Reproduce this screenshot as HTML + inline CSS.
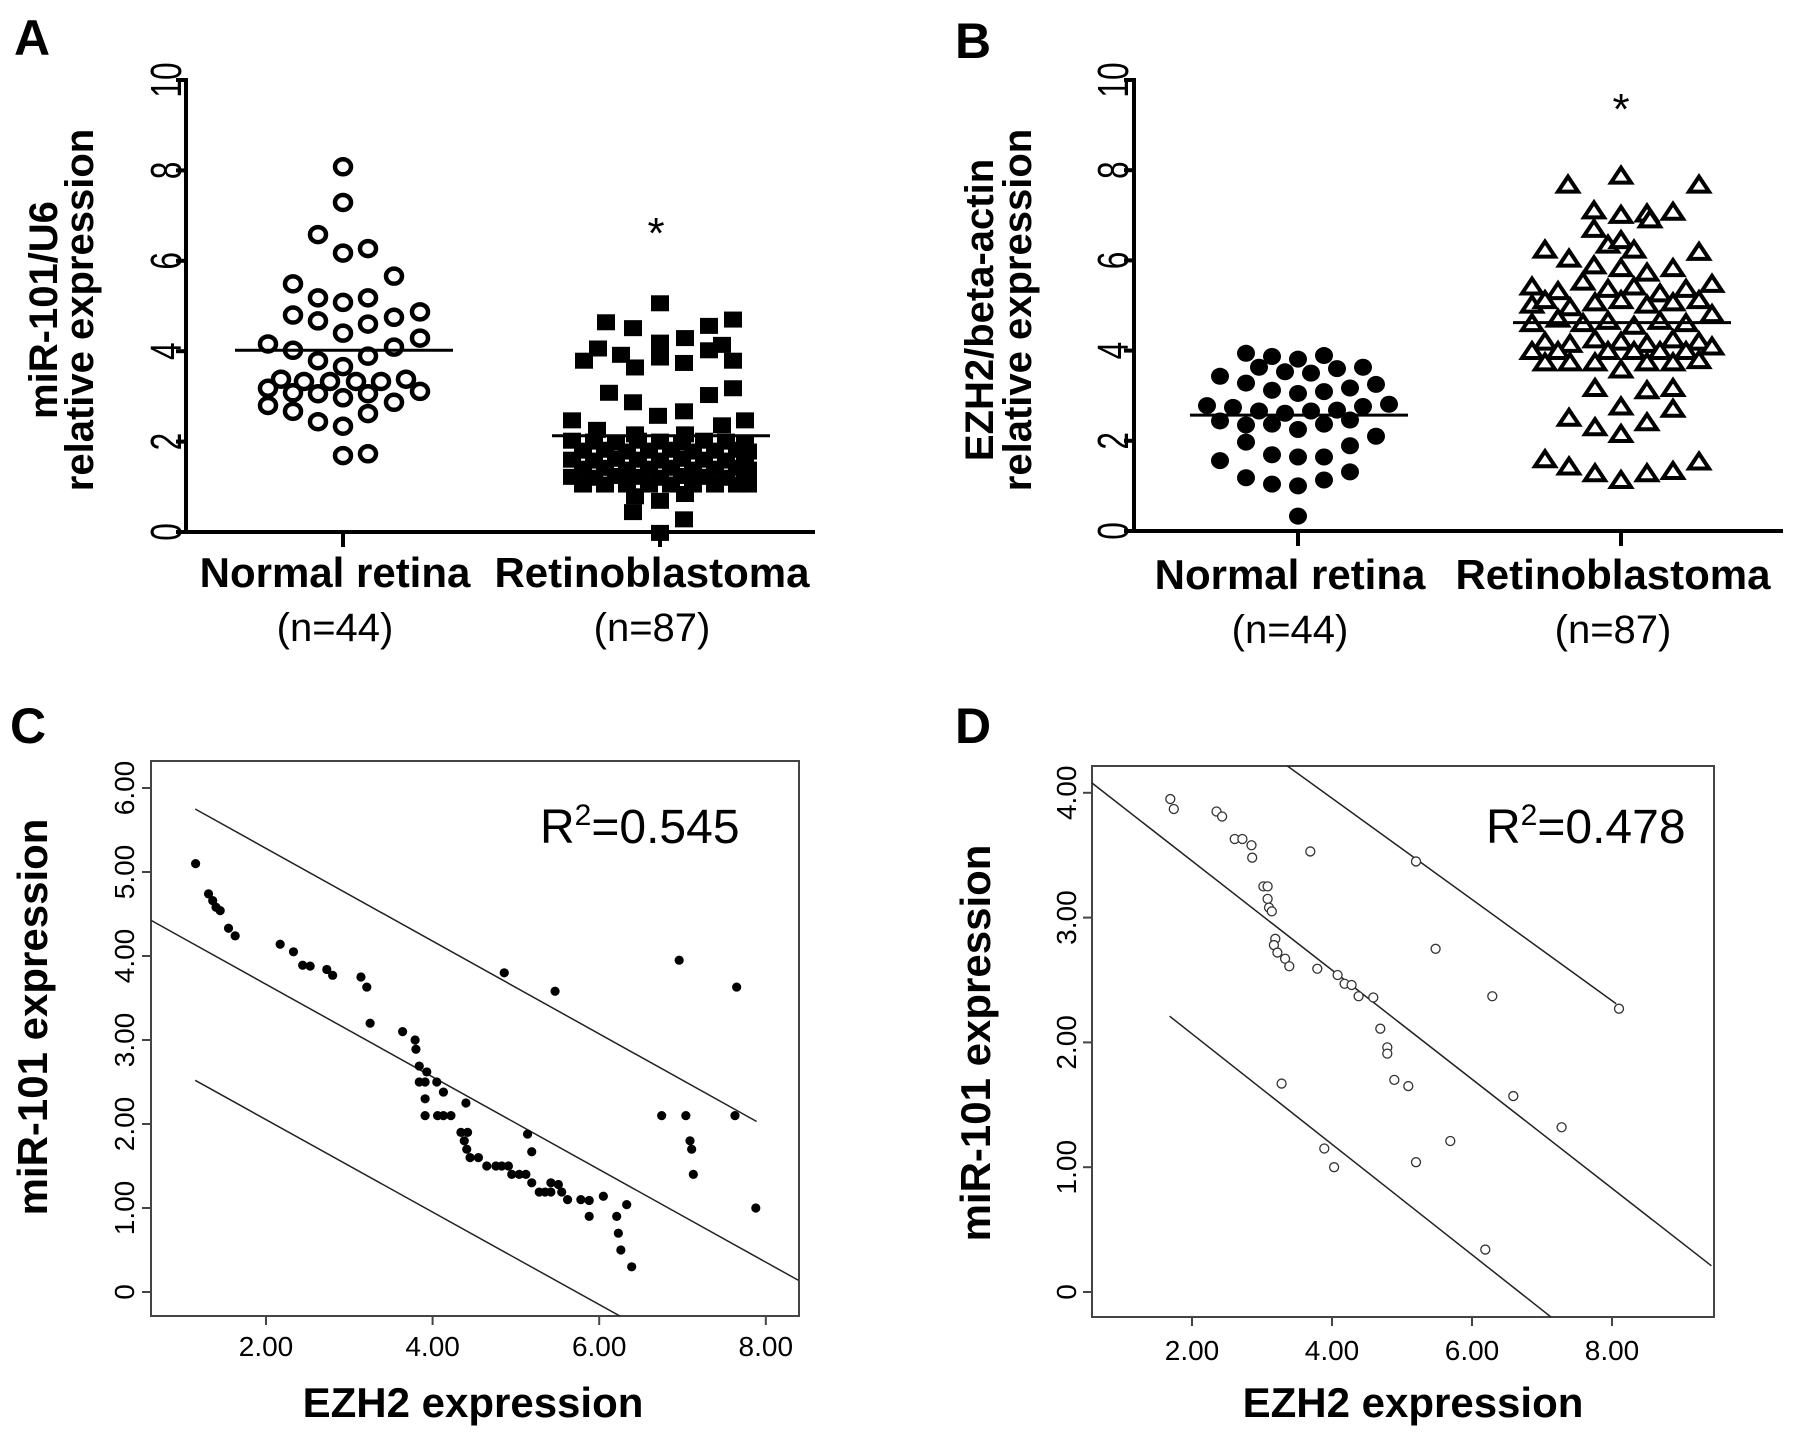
<!DOCTYPE html>
<html><head><meta charset="utf-8">
<style>
html,body{margin:0;padding:0;background:#fff;}
svg{display:block;font-family:"Liberation Sans",Arial,sans-serif;}
</style></head>
<body>
<svg id="fig" width="1795" height="1439" viewBox="0 0 1795 1439" xmlns="http://www.w3.org/2000/svg">
<rect x="0" y="0" width="1795" height="1439" fill="#fff"/>
<g id="gA"></g>
<g id="gB"></g>
<g id="gC"></g>
<g id="gD"></g>
</svg>
<script>
// ---------- Panel A data ----------
const aCategories = ["Normal retina", "Retinoblastoma"];
const aCounts = ["(n=44)", "(n=87)"];
const aYTicks = [0, 2, 4, 6, 8, 10];
const aNormalVals = [8.08,7.29,6.58,6.17,6.27,5.66,5.49,5.18,5.08,5.18,4.80,4.67,4.40,4.60,4.75,4.87,4.16,4.02,3.79,3.66,3.89,4.09,4.29,3.38,3.33,3.33,3.33,3.33,3.38,3.18,3.08,3.06,2.97,3.06,2.87,3.11,2.80,2.67,2.44,2.34,2.62,1.69,1.73];
const aNormalJit = [0,0,-25,0,25,51,-50,-25,0,25,-50,-25,0,25,51,77,-75,-50,-25,0,25,51,77,-62,-39,-13,13,38,63,-75,-50,-25,0,25,51,77,-75,-50,-25,0,25,0,25];
const aRetinoVals = [5.06,4.64,4.51,4.56,4.70,4.19,4.29,3.79,4.06,3.92,3.64,3.86,3.74,4.02,4.14,3.79,3.08,2.87,3.03,3.18,2.57,2.67,2.47,2.47,2.26,2.36,2.16,2.16,
 2.02,2.00,1.98,2.02,2.00,1.98,2.02,2.00,1.98,
 1.80,1.82,1.78,1.80,1.82,1.78,1.80,1.82,1.78,
 1.60,1.58,1.62,1.60,1.58,1.62,1.60,1.58,1.62,
 1.40,1.42,1.38,1.40,1.42,1.38,1.40,1.42,1.38,
 1.22,1.20,1.24,1.22,1.20,1.24,1.22,1.20,1.24,
 1.05,1.05,1.05,1.05,1.05,1.05,1.05,1.05,1.05,
 0.44,0.69,0.28,-0.02,0.79,0.84];
const aRetinoJit = [0,-54,-27,49,73,0,25,-76,-62,-39,-25,0,24,49,62,73,-51,-27,49,73,-2,24,-88,85,-63,62,-25,25,
 -88,-66,-44,-22,0,22,44,66,85,
 -77,-55,-33,-11,11,33,55,77,88,
 -88,-66,-44,-22,0,22,44,66,85,
 -77,-55,-33,-11,11,33,55,77,88,
 -88,-66,-44,-22,0,22,44,66,85,
 -77,-55,-33,-11,11,33,55,77,88,
 -27,0,24,0,-25,25];
const aMeans = [4.02, 2.13];

// ---------- Panel B data ----------
const bCategories = ["Normal retina", "Retinoblastoma"];
const bCounts = ["(n=44)", "(n=87)"];
const bYTicks = [0, 2, 4, 6, 8, 10];
const bNormalVals = [3.94,3.87,3.81,3.89,3.43,3.63,3.53,3.50,3.60,3.63,3.28,3.12,3.05,3.09,3.17,3.25,2.78,2.74,2.66,2.61,2.66,2.68,2.76,2.81,2.44,2.35,2.37,2.25,2.37,2.46,2.10,1.97,1.89,1.56,1.69,1.64,1.64,1.18,1.04,1.00,1.13,1.31,0.33];
const bNormalJit = [-52,-26,0,26,-78,-39,-13,13,39,65,-52,-26,0,26,52,78,-91,-65,-39,-13,13,39,65,91,-78,-52,-26,0,26,52,78,-52,52,-78,-26,0,26,-52,-26,0,26,52,0];
const bRetinoVals = [7.88,7.68,7.68,7.11,7.01,7.04,6.91,7.08,6.70,6.35,6.45,6.24,6.24,6.04,6.19,5.89,5.83,5.73,5.83,5.42,5.32,5.53,5.37,5.42,5.27,5.37,5.48,5.02,5.12,4.96,5.07,5.12,5.02,5.07,5.12,4.61,4.71,4.61,4.66,4.55,4.66,4.61,4.81,4.20,4.15,4.25,4.20,4.15,4.25,4.20,3.99,3.99,3.99,3.99,3.99,3.99,4.09,3.74,3.74,3.74,3.58,3.74,3.74,3.79,3.17,3.12,3.17,2.76,2.71,2.51,2.30,2.15,2.41,1.59,1.43,1.28,1.13,1.28,1.33,1.54];
const bRetinoJit = [0,-53,78,-27,0,26,29,52,-27,-13,0,13,-76,-52,78,-27,0,26,52,-89,-63,-38,-13,13,39,65,91,-89,-76,-51,-26,0,26,52,78,-89,-63,-38,-13,13,39,65,91,-76,-51,-26,0,26,52,78,-89,-63,-13,13,39,65,91,-76,-51,-26,0,26,52,78,-26,26,52,0,52,-52,-26,0,26,-76,-52,-26,0,26,52,78];
const bMeans = [2.57, 4.62];

// ---------- Panel C data ----------
const cXTicks = [2, 4, 6, 8];
const cXTickLabels = ["2.00","4.00","6.00","8.00"];
const cYTicks = [0, 1, 2, 3, 4, 5, 6];
const cYTickLabels = ["0","1.00","2.00","3.00","4.00","5.00","6.00"];
const cX = [1.155,1.31,1.36,1.40,1.45,1.55,1.63,2.17,2.33,2.44,2.53,2.73,2.80,3.14,3.21,3.25,3.64,3.79,3.80,3.84,3.84,3.91,3.93,3.91,3.91,4.05,4.13,4.06,4.13,4.22,4.40,4.34,4.42,4.38,4.41,4.45,4.55,4.65,4.76,4.83,4.91,4.95,5.04,5.12,5.14,5.19,5.19,5.28,5.35,5.42,5.42,5.51,5.55,5.62,5.78,5.88,5.88,6.05,6.21,6.23,6.26,6.33,6.39,4.86,5.47,6.75,6.96,7.04,7.09,7.11,7.13,7.65,7.63,7.88];
const cY = [5.10,4.74,4.66,4.58,4.54,4.33,4.24,4.14,4.05,3.89,3.88,3.84,3.77,3.75,3.63,3.20,3.10,3.00,2.89,2.69,2.50,2.50,2.62,2.30,2.10,2.50,2.38,2.10,2.10,2.10,2.25,1.90,1.90,1.80,1.70,1.60,1.60,1.50,1.50,1.50,1.50,1.40,1.40,1.40,1.88,1.67,1.30,1.19,1.19,1.30,1.19,1.28,1.19,1.10,1.10,1.09,0.90,1.14,0.90,0.70,0.50,1.04,0.30,3.80,3.58,2.10,3.95,2.10,1.80,1.70,1.40,3.63,2.10,1.00];
const cFitX = [[1.15,7.89],[0.61,8.39],[1.15,6.31]];
const cFitY = [[5.75,2.03],[4.43,0.14],[2.52,-0.32]];
const cR2 = "0.545";

// ---------- Panel D data ----------
const dXTicks = [2, 4, 6, 8];
const dXTickLabels = ["2.00","4.00","6.00","8.00"];
const dYTicks = [0, 1, 2, 3, 4];
const dYTickLabels = ["0","1.00","2.00","3.00","4.00"];
const dX = [1.69,1.74,2.35,2.43,2.61,2.72,2.85,2.86,3.69,3.02,3.08,3.08,3.10,3.14,3.19,3.17,3.22,3.33,3.39,3.79,4.08,4.18,4.28,4.38,4.59,4.69,4.79,4.79,4.89,5.09,3.28,3.89,4.03,5.20,5.48,6.29,8.10,6.59,7.28,5.69,5.20,6.19];
const dY = [3.95,3.87,3.85,3.81,3.63,3.63,3.58,3.48,3.53,3.25,3.25,3.15,3.08,3.05,2.83,2.78,2.72,2.67,2.61,2.59,2.54,2.47,2.46,2.37,2.36,2.11,1.96,1.91,1.70,1.65,1.67,1.15,1.00,3.45,2.75,2.37,2.27,1.57,1.32,1.21,1.04,0.34];
const dFitX = [[3.35,8.06],[0.545,9.42],[1.68,7.15]];
const dFitY = [[4.22,2.31],[4.09,0.21],[2.21,-0.21]];
const dR2 = "0.478";

const NS = "http://www.w3.org/2000/svg";
function mk(parent, tag, attrs, text) {
  const e = document.createElementNS(NS, tag);
  for (const k in attrs) e.setAttribute(k, attrs[k]);
  if (text !== undefined) e.textContent = text;
  parent.appendChild(e);
  return e;
}

function dotPanel(g, cfg) {
  const y = v => cfg.y0 - (v - 0) * (cfg.y0 - cfg.y10) / 10;
  let t = mk(g, "text", {x: cfg.letterX, y: cfg.letterY, "font-size": 50, "font-weight": "bold"}, cfg.letter);
  
  
  let ax = mk(g, "line", {x1: cfg.axX, y1: cfg.y10 - 2, x2: cfg.axX, y2: cfg.y0 + 2, stroke: "#000", "stroke-width": 4});
  
  
  let xa = mk(g, "line", {x1: cfg.axX - 2, y1: cfg.y0, x2: cfg.axEnd, y2: cfg.y0, stroke: "#000", "stroke-width": 4});
  
  
  cfg.yTicks.forEach(v => {
    let tk = mk(g, "line", {x1: cfg.axX - 10, y1: y(v), x2: cfg.axX, y2: y(v), stroke: "#000", "stroke-width": 4});
    
    
    let tl = mk(g, "text", {transform: `translate(${cfg.tickLabX},${y(v)}) rotate(-90) scale(0.72,1)`, "font-size": 44, "text-anchor": "middle"}, String(v));
    
    
  });
  cfg.catX.forEach((cx, i) => {
    let tk = mk(g, "line", {x1: cx, y1: cfg.y0, x2: cx, y2: cfg.y0 + 15, stroke: "#000", "stroke-width": 4});
    
    
    let cl = mk(g, "text", {x: cx - 8, y: cfg.catY, "font-size": 42, "font-weight": "bold", "text-anchor": "middle"}, cfg.cats[i]);
    
    
    let nl = mk(g, "text", {x: cx - 8, y: cfg.catY + 54, "font-size": 40, "text-anchor": "middle"}, cfg.counts[i]);
    
    
  });
  const yt = mk(g, "text", {transform: `translate(${cfg.titleX},${cfg.titleY}) rotate(-90)`, "font-size": 40, "font-weight": "bold", "text-anchor": "middle"});
  
  
  mk(yt, "tspan", {x: 0, y: 0}, cfg.title1);
  mk(yt, "tspan", {x: 0, y: cfg.titleGap}, "relative expression");
  cfg.series.forEach((s, si) => {
    const cx = cfg.catX[si];
    s.vals.forEach((v, i) => {
      const px = cx + s.jit[i], py = y(v);
      let m;
      if (s.shape === "circle") m = mk(g, "ellipse", {cx: px, cy: py, rx: 8, ry: 7.5, fill: "#fff", stroke: "#000", "stroke-width": 4.5});
      else if (s.shape === "dot") m = mk(g, "ellipse", {cx: px, cy: py, rx: 9, ry: 8.5, fill: "#000"});
      else if (s.shape === "square") m = mk(g, "rect", {x: px - 9, y: py - 8, width: 18, height: 16, fill: "#000"});
      else m = mk(g, "polygon", {points: `${px},${py - 8} ${px + 10},${py + 7} ${px - 10},${py + 7}`, fill: "#fff", stroke: "#000", "stroke-width": 4, "stroke-linejoin": "miter"});
      
      
    });
    let ml = mk(g, "line", {x1: cx - 108, y1: y(cfg.means[si]), x2: cx + 110, y2: y(cfg.means[si]), stroke: "#000", "stroke-width": 3});
    
    
  });
  let st = mk(g, "text", {x: cfg.starX, y: cfg.starY, "font-size": 44, "text-anchor": "middle"}, "*");
  
  
}

dotPanel(document.getElementById("gA"), {
  letter: "A", letterX: 14, letterY: 55, axX: 186, axEnd: 815, y0: 532, y10: 80,
  yTicks: aYTicks, tickLabX: 181, catX: [343, 660], catY: 587, cats: aCategories, counts: aCounts,
  title1: "miR-101/U6", titleX: 57, titleY: 310, titleGap: 36,
  means: aMeans,
  series: [{vals: aNormalVals, jit: aNormalJit, shape: "circle", name: "normal-point"},
           {vals: aRetinoVals, jit: aRetinoJit, shape: "square", name: "retinoblastoma-point"}],
  starX: 656, starY: 248
});
dotPanel(document.getElementById("gB"), {
  letter: "B", letterX: 955, letterY: 58, axX: 1134, axEnd: 1783, y0: 531, y10: 80,
  yTicks: bYTicks, tickLabX: 1128, catX: [1298, 1621], catY: 589, cats: bCategories, counts: bCounts,
  title1: "EZH2/beta-actin", titleX: 993, titleY: 310, titleGap: 38,
  means: bMeans,
  series: [{vals: bNormalVals, jit: bNormalJit, shape: "dot", name: "normal-point"},
           {vals: bRetinoVals, jit: bRetinoJit, shape: "triangle", name: "retinoblastoma-point"}],
  starX: 1621, starY: 124
});

function scatterPanel(g, cfg) {
  const sx = v => cfg.x0px + (v - cfg.xRef0) * cfg.xScale;
  const sy = v => cfg.y0px - v * cfg.yScale;
  let t = mk(g, "text", {x: cfg.letterX, y: 743, "font-size": 50, "font-weight": "bold"}, cfg.letter);
  
  
  const cp = "clip" + cfg.letter;
  const defs = mk(g, "defs", {});
  const clip = mk(defs, "clipPath", {id: cp});
  mk(clip, "rect", {x: cfg.L, y: cfg.T, width: cfg.R - cfg.L, height: cfg.B - cfg.T});
  let box = mk(g, "rect", {x: cfg.L, y: cfg.T, width: cfg.R - cfg.L, height: cfg.B - cfg.T, fill: "none", stroke: "#444", "stroke-width": 2});
  
  
  cfg.xTicks.forEach((v, i) => {
    let tk = mk(g, "line", {x1: sx(v), y1: cfg.B, x2: sx(v), y2: cfg.B + 9, stroke: "#444", "stroke-width": 2});
    
    
    let tl = mk(g, "text", {x: sx(v), y: cfg.xLabY, "font-size": 28, "text-anchor": "middle"}, cfg.xTickLabels[i]);
    
    
  });
  cfg.yTicks.forEach((v, i) => {
    let tk = mk(g, "line", {x1: cfg.L - 9, y1: sy(v), x2: cfg.L, y2: sy(v), stroke: "#444", "stroke-width": 2});
    
    
    let tl = mk(g, "text", {transform: `translate(${cfg.yLabX},${sy(v)}) rotate(-90)`, "font-size": 28, "text-anchor": "middle"}, cfg.yTickLabels[i]);
    
    
  });
  const lg = mk(g, "g", {"clip-path": `url(#${cp})`});
  cfg.fitX.forEach((fx, i) => {
    let l = mk(lg, "line", {x1: sx(fx[0]), y1: sy(cfg.fitY[i][0]), x2: sx(fx[1]), y2: sy(cfg.fitY[i][1]), stroke: "#222", "stroke-width": 1.5});
    
    
  });
  cfg.xs.forEach((xv, i) => {
    let p;
    if (cfg.open) p = mk(g, "circle", {cx: sx(xv), cy: sy(cfg.ys[i]), r: 4.5, fill: "#fff", stroke: "#333", "stroke-width": 1.3});
    else p = mk(g, "circle", {cx: sx(xv), cy: sy(cfg.ys[i]), r: 4.6, fill: "#000"});
    
    
  });
  const r2 = mk(g, "text", {x: cfg.r2X, y: 843, "font-size": 48});
  
  
  mk(r2, "tspan", {}, "R");
  mk(r2, "tspan", {"font-size": 30, dy: -18}, "2");
  mk(r2, "tspan", {dy: 18}, "=" + cfg.r2);
  let xt = mk(g, "text", {x: cfg.xTitleX, y: 1417, "font-size": 42, "font-weight": "bold", "text-anchor": "middle"}, "EZH2 expression");
  
  
  let yt = mk(g, "text", {transform: `translate(${cfg.yTitleX},${cfg.yTitleY}) rotate(-90)`, "font-size": 42, "font-weight": "bold", "text-anchor": "middle"}, "miR-101 expression");
  
  
}

scatterPanel(document.getElementById("gC"), {
  letter: "C", letterX: 10, L: 151, R: 799, T: 761, B: 1316,
  x0px: 266, xRef0: 2, xScale: 83.3, y0px: 1292, yScale: 84,
  xTicks: cXTicks, xTickLabels: cXTickLabels, yTicks: cYTicks, yTickLabels: cYTickLabels,
  xLabY: 1356, yLabX: 134, fitX: cFitX, fitY: cFitY, xs: cX, ys: cY, open: false,
  r2: cR2, r2X: 540, xTitleX: 473, yTitleX: 47, yTitleY: 1017
});
scatterPanel(document.getElementById("gD"), {
  letter: "D", letterX: 955, L: 1092, R: 1714, T: 766, B: 1317,
  x0px: 1192, xRef0: 2, xScale: 70, y0px: 1292, yScale: 124.8,
  xTicks: dXTicks, xTickLabels: dXTickLabels, yTicks: dYTicks, yTickLabels: dYTickLabels,
  xLabY: 1360, yLabX: 1076, fitX: dFitX, fitY: dFitY, xs: dX, ys: dY, open: true,
  r2: dR2, r2X: 1486, xTitleX: 1413, yTitleX: 990, yTitleY: 1043
});
</script>
</body></html>
